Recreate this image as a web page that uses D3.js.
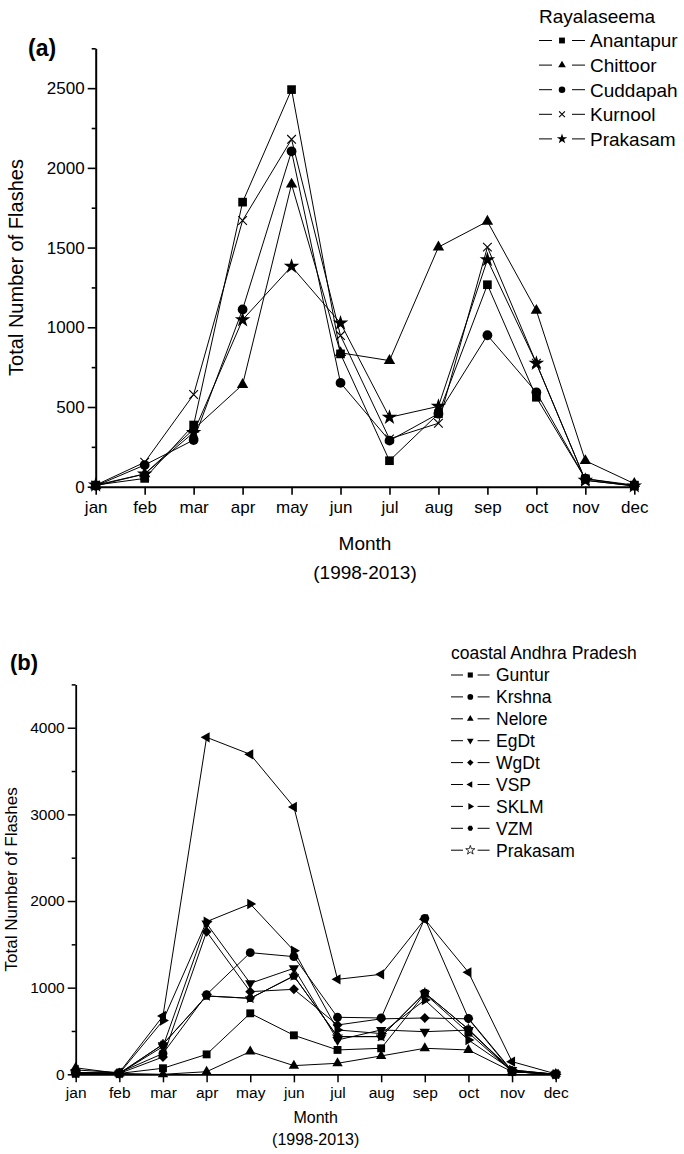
<!DOCTYPE html>
<html><head><meta charset="utf-8">
<script src="https://cdn.jsdelivr.net/npm/d3@7"></script>
<style>
body{margin:0;background:#fff}
svg{display:block}
text{font-family:"Liberation Sans",Arial,sans-serif;fill:#000}
</style>
</head><body>
<svg id="c" width="684" height="1154"></svg>
<script>
// ---------- DATA ----------
const months = ["jan","feb","mar","apr","may","jun","jul","aug","sep","oct","nov","dec"];

// Panel (a) Rayalaseema
const yTicksA = [0,500,1000,1500,2000,2500];
const yMinorA = [250,750,1250,1750,2250,2750];
const seriesNamesA = ["Anantapur","Chittoor","Cuddapah","Kurnool","Prakasam"];
const anantapur = [10,52,387,1785,2491,833,163,458,1267,561,50,10];
const chittoor  = [5,80,360,640,1897,840,791,1503,1664,1105,163,19];
const cuddapah  = [5,136,293,1112,2104,651,289,458,950,592,50,5];
const kurnool   = [10,153,578,1670,2179,948,300,398,1503,774,40,5];
const prakasamA = [10,80,340,1047,1382,1026,435,504,1424,774,40,5];

// Panel (b) coastal Andhra Pradesh
const yTicksB = [0,1000,2000,3000,4000];
const yMinorB = [500,1500,2500,3500,4500];
const seriesNamesB = ["Guntur","Krshna","Nelore","EgDt","WgDt","VSP","SKLM","VZM","Prakasam"];
const guntur    = [10,10,70,230,704,450,281,300,930,480,30,0];
const krshna    = [15,20,240,920,1404,1358,658,650,1800,646,40,0];
const nelore    = [75,10,0,30,262,100,127,212,300,281,30,5];
const egdt      = [20,10,320,1740,1050,1223,396,512,492,510,50,0];
const wgdt      = [15,10,200,1646,954,981,569,640,650,640,30,0];
const vsp       = [50,20,673,3889,3693,3085,1096,1154,1790,1177,146,5];
const sklm      = [20,10,620,1762,1966,1427,512,470,858,396,50,0];
const vzm       = [10,10,346,904,877,1135,435,435,940,520,30,0];
const prakasamB = [10,10,346,904,877,1135,435,435,940,520,30,0];

// ---------- DRAWING ----------
const svg = d3.select("#c");

function markerPath(shape, size){
  const r = Math.sqrt(size)/2;
  switch(shape){
    case "square": return d3.symbol(d3.symbolSquare, size)();
    case "circle": return d3.symbol(d3.symbolCircle, size)();
    case "triangle": case "down": case "left": case "right":
      return d3.symbol(d3.symbolTriangle, size*0.75)();
    case "star": case "openstar": return d3.symbol(d3.symbolStar, size)();
    case "diamond": return d3.symbol(d3.symbolSquare, size*0.8)();
    case "cross": {const q=r*1.0; return `M${-q},${-q}L${q},${q}M${-q},${q}L${q},${-q}`;}
    case "hexagon": {
      const R = r*1.1; let p="";
      for(let i=0;i<6;i++){const a=Math.PI/3*i; p+=(i?"L":"M")+(R*Math.cos(a)).toFixed(2)+","+(R*Math.sin(a)).toFixed(2);}
      return p+"Z";
    }
  }
}
function markerRot(shape){
  return {down:180,left:-90,right:90,diamond:45}[shape]||0;
}
function drawMarker(g, shape, cx, cy, size){
  const p = g.append("path").attr("d", markerPath(shape,size))
    .attr("transform", `translate(${cx},${cy}) rotate(${markerRot(shape)})`);
  if(shape==="cross") p.attr("fill","none").attr("stroke","#000").attr("stroke-width",1.1);
  else if(shape==="openstar") p.attr("fill","#fff").attr("stroke","#000").attr("stroke-width",0.8);
  else p.attr("fill","#000");
}

function drawPanel(o){
  const g = svg.append("g");
  const x = d3.scalePoint().domain(months).range(o.xr);
  const y = d3.scaleLinear().domain(o.yd).range(o.yr);
  const x0 = o.xr[0], y0 = o.yr[0];

  // lines
  const line = d3.line().x((d,i)=>x(months[i])).y(d=>y(d));
  o.series.forEach(s=>{
    g.append("path").attr("d", line(s.values)).attr("fill","none")
      .attr("stroke","#000").attr("stroke-width",1);
  });
  // markers (open-star series drawn first, underneath)
  const order = o.series.filter(s=>s.shape==="openstar").concat(o.series.filter(s=>s.shape!=="openstar"));
  order.forEach(s=>{
    const sz = s.shape==="openstar" ? o.msize*0.5 : o.msize;
    s.values.forEach((v,i)=> drawMarker(g, s.shape, x(months[i]), y(v), sz));
  });

  // y axis minor
  g.append("g").attr("transform",`translate(${x0},0)`)
    .call(d3.axisLeft(y).tickValues(o.minor).tickSize(o.minorLen).tickFormat(""))
    .call(a=>{a.select(".domain").remove(); a.selectAll("line").attr("stroke-width",o.tickW);});
  // y axis major
  g.append("g").attr("transform",`translate(${x0},0)`)
    .call(d3.axisLeft(y).tickValues(o.major).tickSize(o.majorLen).tickSizeOuter(0).tickPadding(3).tickFormat(d3.format("d")))
    .call(a=>{
      a.select(".domain").attr("stroke-width",o.axisW);
      a.selectAll("line").attr("stroke-width",o.tickW);
      a.selectAll("text").style("font-size",o.tickFont+"px").attr("fill","#000");
    });
  // x axis
  g.append("g").attr("transform",`translate(0,${y0})`)
    .call(d3.axisBottom(x).tickSize(o.majorLen).tickSizeOuter(0).tickPadding(o.xPad))
    .call(a=>{
      a.select(".domain").attr("stroke-width",o.axisW);
      a.selectAll("line").attr("stroke-width",o.tickW);
      a.selectAll("text").style("font-size",o.tickFont+"px").attr("fill","#000");
    });

  const cx = (o.xr[0]+o.xr[1])/2;
  g.append("text").attr("x",cx).attr("y",o.monthY).attr("text-anchor","middle")
    .style("font-size",o.titleFont+"px").text("Month");
  g.append("text").attr("x",cx).attr("y",o.yearY).attr("text-anchor","middle")
    .style("font-size",o.titleFont+"px").text("(1998-2013)");
  g.append("text").attr("transform",`translate(${o.yTitleX},${(o.yr[0]+o.yr[1])/2}) rotate(-90)`)
    .attr("text-anchor","middle").style("font-size",o.yTitleFont+"px").text("Total Number of Flashes");
  g.append("text").attr("x",o.labX).attr("y",o.labY).style("font-size",o.labFont+"px")
    .style("font-weight","bold").text(o.label);

  // legend
  const L = o.legend;
  g.append("text").attr("x",L.x).attr("y",L.titleY).style("font-size",L.font+"px").text(L.title);
  o.series.forEach((s,i)=>{
    const yy = L.y0 + i*L.step;
    g.append("line").attr("x1",L.x).attr("x2",L.x+L.seg).attr("y1",yy).attr("y2",yy).attr("stroke","#000").attr("stroke-width",1);
    g.append("line").attr("x1",L.x+L.seg+L.gap*2).attr("x2",L.x+2*L.seg+L.gap*2).attr("y1",yy).attr("y2",yy).attr("stroke","#000").attr("stroke-width",1);
    drawMarker(g, s.shape, L.x+L.seg+L.gap, yy, L.msize);
    g.append("text").attr("x",L.textX).attr("y",yy).attr("dy","0.36em")
      .style("font-size",L.font+"px").text(s.name);
  });
}

const shapesA = ["square","triangle","circle","cross","star"];
const valuesA = [anantapur,chittoor,cuddapah,kurnool,prakasamA];
drawPanel({
  xr:[95.7,634.3], yd:[0,2750], yr:[486.7,48.3],
  major:yTicksA, minor:yMinorA, majorLen:8, minorLen:4, axisW:2, tickW:1.6,
  tickFont:17, xPad:6, titleFont:19, monthY:550, yearY:579,
  yTitleX:23, yTitleFont:20, label:"(a)", labX:28, labY:56, labFont:23, msize:75,
  series: seriesNamesA.map((n,i)=>({name:n, values:valuesA[i], shape:shapesA[i]})),
  legend:{x:539, titleY:23, title:"Rayalaseema", y0:40.5, step:24.6, seg:13, gap:10, textX:590, font:19, msize:34}
});

const shapesB = ["square","circle","triangle","down","diamond","left","right","hexagon","openstar"];
const valuesB = [guntur,krshna,nelore,egdt,wgdt,vsp,sklm,vzm,prakasamB];
drawPanel({
  xr:[75.7,555.7], yd:[0,4500], yr:[1074.3,684.4],
  major:yTicksB, minor:yMinorB, majorLen:8, minorLen:4, axisW:1.8, tickW:1.5,
  tickFont:15.5, xPad:5, titleFont:16, monthY:1123, yearY:1145,
  yTitleX:17, yTitleFont:17, label:"(b)", labX:10, labY:670, labFont:22, msize:62,
  series: seriesNamesB.map((n,i)=>({name:n, values:valuesB[i], shape:shapesB[i]})),
  legend:{x:451, titleY:659, title:"coastal Andhra Pradesh", y0:675, step:21.9, seg:12, gap:7.3, textX:496, font:17.5, msize:26}
});
</script>
</body></html>
